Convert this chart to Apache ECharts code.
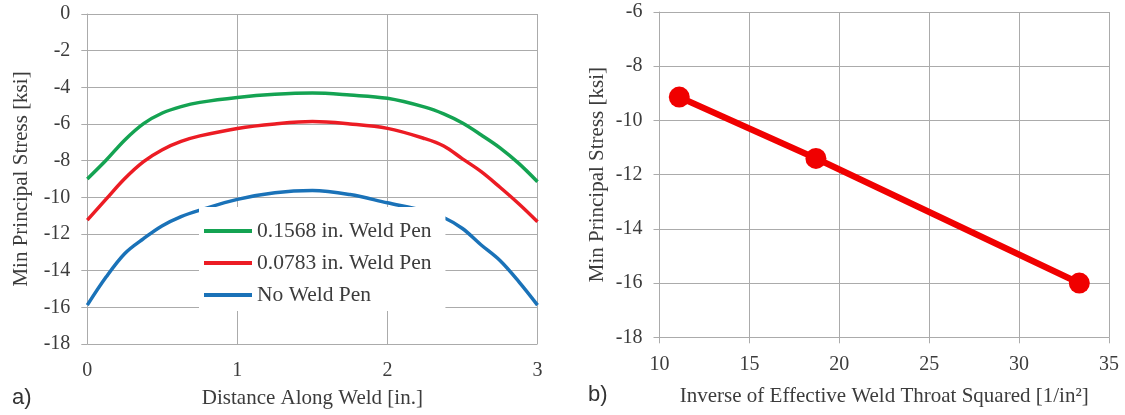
<!DOCTYPE html>
<html>
<head>
<meta charset="utf-8">
<script src="https://cdn.jsdelivr.net/npm/echarts@6/dist/echarts.min.js"></script>
<style>
html,body{margin:0;padding:0;background:#fff;}
#chart{width:1125px;height:415px;}
</style>
</head>
<body>
<div id="chart"></div>
<script>
// ---- Data (panel a) ----
const distance = [0, 0.125, 0.25, 0.375, 0.5, 0.625, 0.75, 1.0, 1.25, 1.5, 1.75, 2.0, 2.25, 2.375, 2.5, 2.625, 2.75, 2.875, 3.0];
const pen1568 = [-9.0, -7.98, -6.87, -5.98, -5.4, -5.05, -4.82, -4.55, -4.38, -4.31, -4.42, -4.6, -5.08, -5.45, -5.95, -6.6, -7.3, -8.15, -9.15];
const pen0783 = [-11.24, -10.1, -8.97, -8.05, -7.4, -6.95, -6.65, -6.24, -6.0, -5.87, -6.0, -6.24, -6.8, -7.2, -7.9, -8.6, -9.45, -10.35, -11.33];
const noPen = [-15.88, -14.35, -13.06, -12.25, -11.55, -11.05, -10.7, -10.11, -9.75, -9.63, -9.85, -10.3, -10.75, -11.1, -11.7, -12.6, -13.45, -14.6, -15.88];
const seriesNames = ['0.1568 in. Weld Pen', '0.0783 in. Weld Pen', 'No Weld Pen'];

// ---- Data (panel b) ----
const inverseThroatSq = [11.1, 18.7, 33.35];
const minStressB = [-9.14, -11.4, -16.0];

// ---- Axis ticks ----
const yTicksA = {min: -18, max: 0, interval: 2};
const xTicksA = {min: 0, max: 3, interval: 1};
const yTicksB = {min: -18, max: -6, interval: 2};
const xTicksB = {min: 10, max: 35, interval: 5};

const gridGray = '#ababab';
const textDark = '#3c3c3c';
const serif = 'Liberation Serif';

function pairs(xs, ys){ return xs.map((x,i)=>[x, ys[i]]); }

function axisCommon(extra){
  return Object.assign({
    type: 'value',
    axisLine: {show: true, lineStyle: {color: gridGray, width: 1}},
    axisTick: {show: true, length: 6, lineStyle: {color: gridGray}},
    splitLine: {show: true, lineStyle: {color: gridGray, width: 1}},
    axisLabel: {color: textDark, fontFamily: serif, fontSize: 20, margin: 17},
    nameLocation: 'middle',
    nameTextStyle: {color: textDark, fontFamily: serif, fontSize: 21}
  }, extra);
}

const chart = echarts.init(document.getElementById('chart'), null, {renderer: 'canvas'});
chart.setOption({
  animation: false,
  backgroundColor: '#fff',
  textStyle: {fontFamily: serif},
  grid: [
    {left: 87.3, right: 587.5, top: 14, bottom: 71},
    {left: 659.5, right: 16, top: 12, bottom: 77.7}
  ],
  xAxis: [
    axisCommon(Object.assign({gridIndex: 0, name: 'Distance Along Weld [in.]', nameGap: 44}, xTicksA)),
    axisCommon(Object.assign({gridIndex: 1, name: 'Inverse of Effective Weld Throat Squared [1/in\u00B2]', nameGap: 49}, xTicksB))
  ],
  yAxis: [
    axisCommon(Object.assign({gridIndex: 0, name: 'Min Principal Stress [ksi]', nameGap: 55}, yTicksA)),
    axisCommon(Object.assign({gridIndex: 1, name: 'Min Principal Stress [ksi]', nameGap: 52}, yTicksB))
  ],
  legend: {
    data: seriesNames,
    orient: 'vertical',
    left: 199,
    top: 207,
    backgroundColor: '#ffffff',
    padding: [13, 14, 5, 5],
    icon: 'rect',
    itemWidth: 48,
    itemHeight: 4,
    itemGap: 10,
    textStyle: {color: textDark, fontFamily: serif, fontSize: 21.5}
  },
  graphic: [
    {type: 'text', left: 12, top: 387, style: {text: 'a)', font: '22px "Liberation Sans"', fill: '#333'}},
    {type: 'text', left: 588, top: 384, style: {text: 'b)', font: '22px "Liberation Sans"', fill: '#333'}}
  ],
  series: [
    {name: seriesNames[2], type: 'line', xAxisIndex: 0, yAxisIndex: 0, data: pairs(distance, noPen),
     smooth: 0.35, symbol: 'none', lineStyle: {color: '#1a72b8', width: 3.5}, itemStyle: {color: '#1a72b8'}},
    {name: seriesNames[1], type: 'line', xAxisIndex: 0, yAxisIndex: 0, data: pairs(distance, pen0783),
     smooth: 0.35, symbol: 'none', lineStyle: {color: '#ec1c24', width: 3.5}, itemStyle: {color: '#ec1c24'}},
    {name: seriesNames[0], type: 'line', xAxisIndex: 0, yAxisIndex: 0, data: pairs(distance, pen1568),
     smooth: 0.35, symbol: 'none', lineStyle: {color: '#14a352', width: 3.5}, itemStyle: {color: '#14a352'}},
    {name: 'b', type: 'line', xAxisIndex: 1, yAxisIndex: 1, data: pairs(inverseThroatSq, minStressB),
     symbol: 'circle', symbolSize: 21, lineStyle: {color: '#f00000', width: 6.5}, itemStyle: {color: '#f00000'}}
  ]
});
</script>
</body>
</html>
